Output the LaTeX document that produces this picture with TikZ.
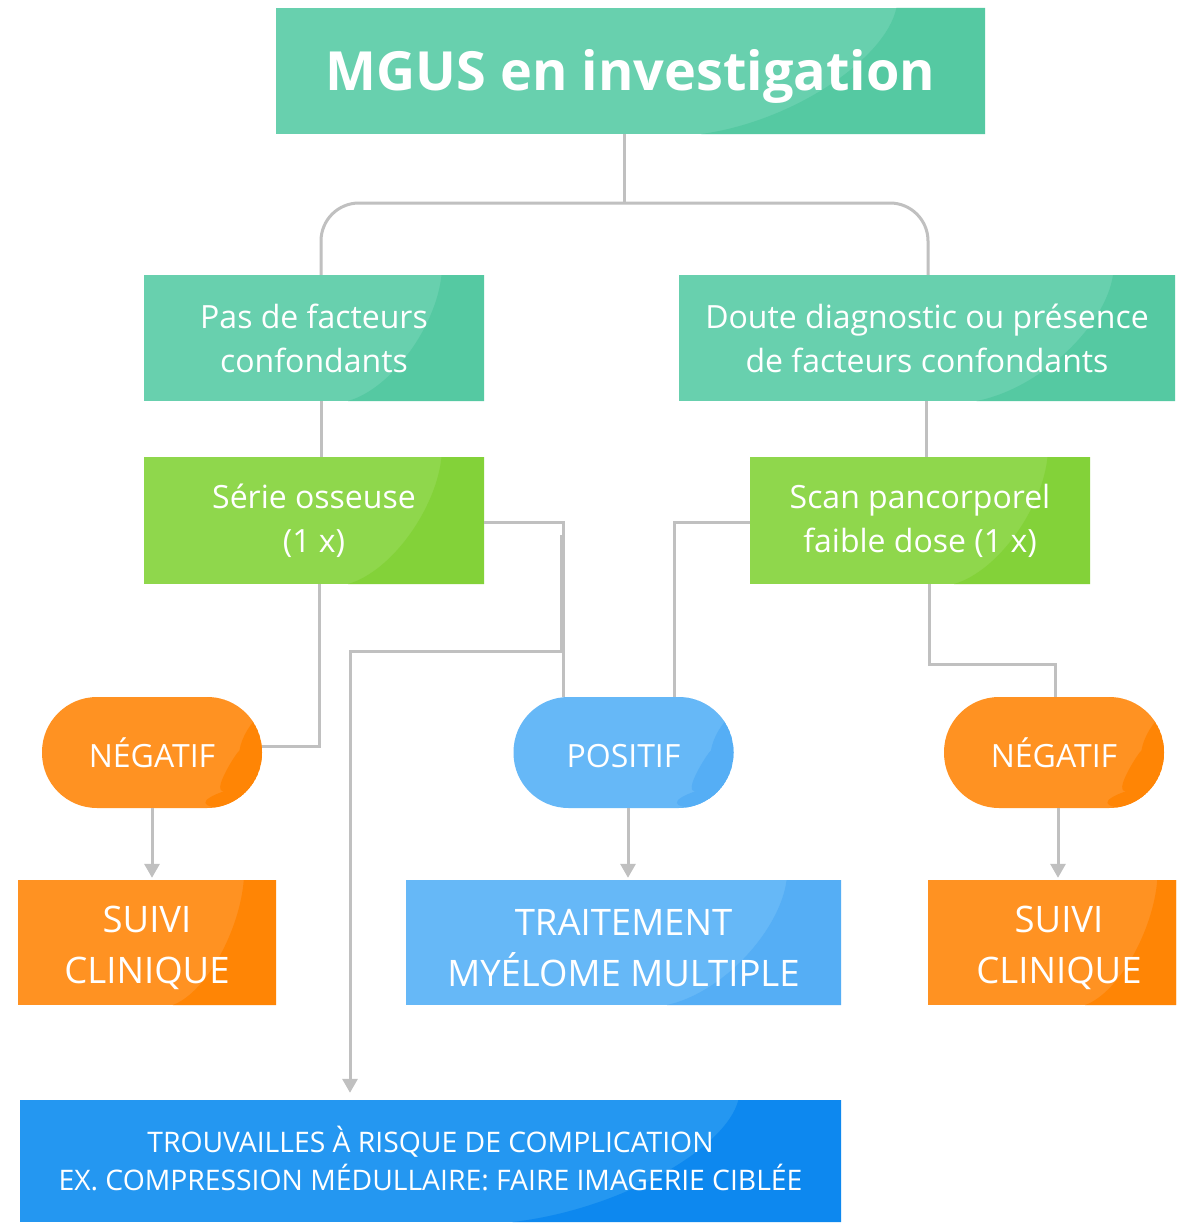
\documentclass[tikz,border=0pt]{standalone}
\usepackage{fontspec}
\setmainfont{Open Sans}
\usetikzlibrary{arrows.meta,calc}
\definecolor{tealL}{HTML}{68D0AE}
\definecolor{tealD}{HTML}{55C9A2}
\definecolor{grnL}{HTML}{8FD74C}
\definecolor{grnD}{HTML}{83D239}
\definecolor{orgL}{HTML}{FF9222}
\definecolor{orgD}{HTML}{FF8505}
\definecolor{bluL}{HTML}{66B8F7}
\definecolor{bluD}{HTML}{55AEF5}
\definecolor{dbL}{HTML}{2497F1}
\definecolor{dbD}{HTML}{0D88EF}
\definecolor{conncol}{HTML}{C0C0C0}
\newcommand{\topstrut}[1]{\rule{0pt}{#1}}
\newcommand{\botstrut}[1]{\rule[-#1]{0pt}{0pt}}
\tikzset{
  sheen/.style={path picture={
    \fill[#1] let \p1=(path picture bounding box.north east),
                  \p2=(path picture bounding box.south west),
                  \n1={\x1-\x2}, \n2={\y1-\y2} in
      ({\x1-0.125*\n1},\y1) .. controls ({\x1-0.14*\n1},{\y1-0.4*\n2}) and ({\x1-0.27*\n1},{\y2+0.1*\n2})
      .. ({\x1-0.40*\n1},\y2) -- (\x1,\y2) -- (\x1,\y1) -- cycle;
  }},
  sheenpill/.style={path picture={
    \fill[#1] let \p1=(path picture bounding box.north east),
                  \p2=(path picture bounding box.south west),
                  \n1={\x1-\x2}, \n2={\y1-\y2} in
      ({\x1-0.06*\n1},\y1) .. controls ({\x1-0.10*\n1},{\y1-0.45*\n2}) and ({\x1-0.25*\n1},{\y2+0.1*\n2})
      .. ({\x1-0.40*\n1},\y2) -- (\x1,\y2) -- (\x1,\y1) -- cycle;
  }},
  box/.style={rectangle, inner sep=0pt, align=center, text=white,
    font=\fontsize{32}{44}\selectfont},
  tealbox/.style={box, fill=tealL, sheen=tealD},
  grnbox/.style={box, fill=grnL, sheen=grnD},
  pill/.style={box, rounded corners=55pt, minimum width=220pt, minimum height=111pt,
    font=\fontsize{32}{40}\selectfont},
  orgpill/.style={pill, fill=orgL, sheenpill=orgD},
  blupill/.style={pill, fill=bluL, sheenpill=bluD},
  endbox/.style={box, minimum height=125pt, font=\fontsize{36.5}{51}\selectfont},
  conn/.style={draw=conncol, line width=3pt},
  arr/.style={conn, -{Triangle[width=15pt,length=14pt]}, shorten >=2pt},
}
\begin{document}
\begin{tikzpicture}[x=1pt,y=-1pt]
\useasboundingbox (0,0) rectangle (1176,1223);
\clip (0,0) rectangle (1176,1223);
\fill[white] (0,0) rectangle (1176,1223);

% boxes
\node[tealbox, minimum width=709pt, minimum height=126pt,
      font=\fontsize{54}{70}\selectfont\bfseries] (title) at (630.5,71) {\topstrut{52pt}MGUS en investigation};
\node[tealbox, minimum width=340pt, minimum height=126pt] (pas) at (314,338) {Pas de facteurs\\confondants};
\node[tealbox, minimum width=496pt, minimum height=126pt] (doute) at (927,338) {Doute diagnostic ou présence\\de facteurs confondants};
\node[grnbox, minimum width=340pt, minimum height=127pt] (serie) at (314,520.5) {Série osseuse\\(1 x)};
\node[grnbox, minimum width=340pt, minimum height=127pt] (scan) at (920,520.5) {Scan pancorporel\\faible dose (1 x)};
\node[orgpill] (negl) at (152,752.5) {NÉGATIF};
\node[blupill] (pos) at (623.5,752.5) {\topstrut{31pt}POSITIF};
\node[orgpill] (negr) at (1054,752.5) {NÉGATIF};
\node[endbox, minimum width=258pt, fill=orgL, sheen=orgD] (suivil) at (147,942.5) {\topstrut{38pt}SUIVI\\CLINIQUE};
\node[endbox, minimum width=435pt, fill=bluL, sheen=bluD] (trait) at (623.5,942.5) {\topstrut{38pt}TRAITEMENT\\MYÉLOME MULTIPLE};
\node[endbox, minimum width=262pt, fill=orgL, sheen=orgD] (suivir) at (1059,942.5) {\topstrut{38pt}SUIVI\\CLINIQUE};
\node[box, minimum width=821pt, minimum height=122pt, fill=dbL, sheen=dbD,
      font=\fontsize{28.3}{38}\selectfont] (trouv) at (430.5,1161) {TROUVAILLES À RISQUE DE COMPLICATION\\EX. COMPRESSION MÉDULLAIRE: FAIRE IMAGERIE CIBLÉE\botstrut{6pt}};

% connectors
\coordinate (jn) at (624,203);
\draw[conn] ($(title.south)+(-6.5,0)$) -- (jn);
\draw[conn, rounded corners=38pt] ($(pas.north)+(7,0)$) |- (jn) -| ($(doute.north)+(1,0)$);
\draw[conn] ($(pas.south)+(7,0)$) -- ($(serie.north)+(7,0)$);
\draw[conn] ($(doute.south)+(-1,0)$) -- ($(scan.north)+(6,0)$);
\draw[conn] ($(serie.east)+(0,1.5)$) -| ($(pos.north)+(-60.5,0)$);
\coordinate (br) at (561,535);
\draw[arr, shorten >=7pt] (br) -- (561,651) -| ($(trouv.north)+(-80.5,0)$);
\draw[conn] ($(serie.south)+(5,0)$) |- ($(negl.east)+(0,-6.5)$);
\draw[conn] ($(scan.west)+(0,1.5)$) -| ($(pos.north)+(50.5,0)$);
\draw[conn] ($(scan.south)+(9,0)$) -- ++(0,80) -| ($(negr.north)+(1,0)$);
\draw[arr] (negl.south) -- ($(suivil.north)+(5,0)$);
\draw[arr] ($(pos.south)+(4.5,0)$) -- ($(trait.north)+(4.5,0)$);
\draw[arr] ($(negr.south)+(4,0)$) -- ($(suivir.north)+(-1,0)$);
\end{tikzpicture}
\end{document}
